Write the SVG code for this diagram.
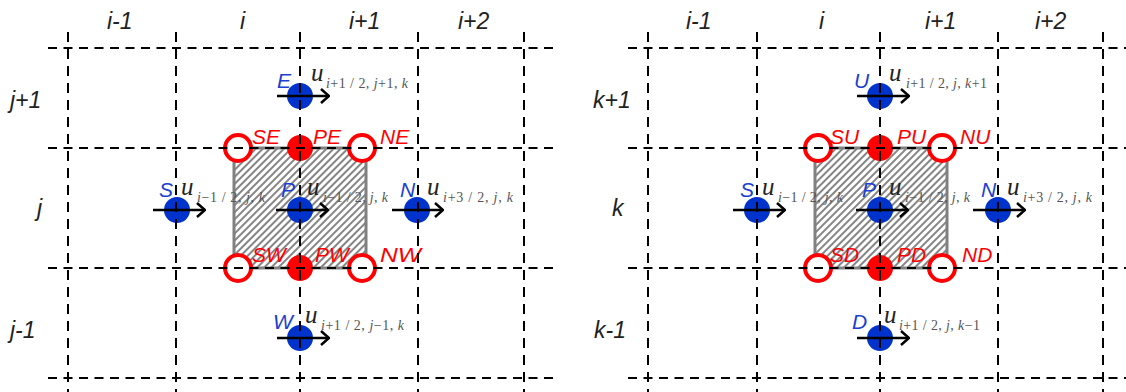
<svg xmlns="http://www.w3.org/2000/svg" width="1126" height="392" viewBox="0 0 1126 392">
<style>
.hg{stroke:#000;stroke-width:2;stroke-dasharray:9 6.5;fill:none}
.vg{stroke:#000;stroke-width:2;stroke-dasharray:10 7;fill:none}
.cell{fill:url(#hatch);stroke:#808080;stroke-width:3}
.bdot{fill:#0033cc}
.rdot{fill:#ff0000}
.ring{fill:#fff;stroke:#ff0000;stroke-width:4}
.lbl{font-family:"Liberation Sans",Arial,sans-serif;font-style:italic;font-size:21px}
.red{fill:#ff0000}
.blue{fill:#1a3fd1}
.hdr{font-family:"Liberation Sans",Arial,sans-serif;font-style:italic;font-size:23px;fill:#222}
.u{font-family:"Liberation Serif","Times New Roman",serif;font-style:italic;font-size:25px;fill:#222}
.sub{font-family:"Liberation Serif","Times New Roman",serif;font-size:14px;fill:#555}
.it{font-style:italic}
.arrow{stroke:#000;stroke-width:2.5;fill:none;marker-end:url(#chev)}
</style>
<defs>
<pattern id="hatch" width="5" height="5" patternUnits="userSpaceOnUse" patternTransform="rotate(45)">
<rect width="5" height="5" fill="#fff"/>
<line x1="1" y1="0" x2="1" y2="5" stroke="#444" stroke-width="1.3"/>
</pattern>
<marker id="chev" viewBox="0 0 10 16" refX="9" refY="8" markerWidth="10" markerHeight="16" markerUnits="userSpaceOnUse" orient="auto">
<path d="M1,1 L9,8 L1,15" stroke="#000" stroke-width="2.5" fill="none"/>
</marker>
</defs>
<rect width="1126" height="392" fill="#fff"/>

<!-- control volumes -->
<g id="cell-left"><rect class="cell" x="234" y="148" width="132" height="120"/></g>
<g id="cell-right"><rect class="cell" x="815" y="148" width="132" height="120"/></g>

<!-- left panel nodes -->
<g id="node-SE"><circle class="ring" cx="238" cy="148" r="13"/><text class="lbl red" x="252" y="144">SE</text></g>
<g id="node-PE"><circle class="rdot" cx="300" cy="148" r="13"/><text class="lbl red" x="313" y="144">PE</text></g>
<g id="node-NE"><circle class="ring" cx="362" cy="148" r="13"/><text class="lbl red" x="380" y="144">NE</text></g>
<g id="node-SW"><circle class="ring" cx="238" cy="268" r="13"/><text class="lbl red" x="252" y="262">SW</text></g>
<g id="node-PW"><circle class="rdot" cx="300" cy="268" r="13"/><text class="lbl red" x="315" y="262">PW</text></g>
<g id="node-NW"><circle class="ring" cx="362" cy="268" r="13"/><text class="lbl red" x="380" y="262" textLength="41" lengthAdjust="spacingAndGlyphs">NW</text></g>

<g id="node-E"><circle class="bdot" cx="300" cy="96" r="13"/><text class="lbl blue" x="277" y="88">E</text>
<text class="u" x="311" y="81">u</text><text class="sub" x="326" y="88" textLength="82" lengthAdjust="spacing"><tspan class="it">i</tspan>+1 / 2, <tspan class="it">j</tspan>+1, <tspan class="it">k</tspan></text></g>
<g id="node-S"><circle class="bdot" cx="177" cy="210" r="13"/><text class="lbl blue" x="159" y="197">S</text>
<text class="u" x="181" y="195">u</text><text class="sub" x="197" y="202" textLength="68" lengthAdjust="spacing"><tspan class="it">i</tspan>−1 / 2, <tspan class="it">j</tspan>, <tspan class="it">k</tspan></text></g>
<g id="node-P"><circle class="bdot" cx="300" cy="210" r="13"/><text class="lbl blue" x="281" y="197">P</text>
<text class="u" x="307" y="195">u</text><text class="sub" x="323" y="202" textLength="65" lengthAdjust="spacing"><tspan class="it">i</tspan>−1 / 2, <tspan class="it">j</tspan>, <tspan class="it">k</tspan></text></g>
<g id="node-N"><circle class="bdot" cx="417" cy="210" r="13"/><text class="lbl blue" x="400" y="197">N</text>
<text class="u" x="427" y="195">u</text><text class="sub" x="443" y="202" textLength="70" lengthAdjust="spacing"><tspan class="it">i</tspan>+3 / 2, <tspan class="it">j</tspan>, <tspan class="it">k</tspan></text></g>
<g id="node-W"><circle class="bdot" cx="300" cy="338" r="13"/><text class="lbl blue" x="273" y="329">W</text>
<text class="u" x="305" y="323">u</text><text class="sub" x="321" y="330" textLength="83" lengthAdjust="spacing"><tspan class="it">i</tspan>+1 / 2, <tspan class="it">j</tspan>−1, <tspan class="it">k</tspan></text></g>

<!-- right panel nodes -->
<g id="node-SU"><circle class="ring" cx="818" cy="148" r="13"/><text class="lbl red" x="830" y="144">SU</text></g>
<g id="node-PU"><circle class="rdot" cx="880" cy="148" r="13"/><text class="lbl red" x="897" y="144">PU</text></g>
<g id="node-NU"><circle class="ring" cx="942" cy="148" r="13"/><text class="lbl red" x="960" y="144">NU</text></g>
<g id="node-SD"><circle class="ring" cx="818" cy="268" r="13"/><text class="lbl red" x="830" y="262">SD</text></g>
<g id="node-PD"><circle class="rdot" cx="880" cy="268" r="13"/><text class="lbl red" x="897" y="262">PD</text></g>
<g id="node-ND"><circle class="ring" cx="942" cy="268" r="13"/><text class="lbl red" x="962" y="262">ND</text></g>

<g id="node-U"><circle class="bdot" cx="880" cy="96" r="13"/><text class="lbl blue" x="854" y="88">U</text>
<text class="u" x="889" y="81">u</text><text class="sub" x="906" y="88" textLength="81" lengthAdjust="spacing"><tspan class="it">i</tspan>+1 / 2, <tspan class="it">j</tspan>, <tspan class="it">k</tspan>+1</text></g>
<g id="node-S2"><circle class="bdot" cx="757" cy="210" r="13"/><text class="lbl blue" x="740" y="197">S</text>
<text class="u" x="762" y="195">u</text><text class="sub" x="778" y="202" textLength="65" lengthAdjust="spacing"><tspan class="it">i</tspan>−1 / 2, <tspan class="it">j</tspan>, <tspan class="it">k</tspan></text></g>
<g id="node-P2"><circle class="bdot" cx="880" cy="210" r="13"/><text class="lbl blue" x="862" y="197">P</text>
<text class="u" x="889" y="195">u</text><text class="sub" x="905" y="202" textLength="65" lengthAdjust="spacing"><tspan class="it">i</tspan>−1 / 2, <tspan class="it">j</tspan>, <tspan class="it">k</tspan></text></g>
<g id="node-N2"><circle class="bdot" cx="998" cy="210" r="13"/><text class="lbl blue" x="981" y="197">N</text>
<text class="u" x="1007" y="195">u</text><text class="sub" x="1023" y="202" textLength="69" lengthAdjust="spacing"><tspan class="it">i</tspan>+3 / 2, <tspan class="it">j</tspan>, <tspan class="it">k</tspan></text></g>
<g id="node-D"><circle class="bdot" cx="880" cy="338" r="13"/><text class="lbl blue" x="852" y="329">D</text>
<text class="u" x="884" y="323">u</text><text class="sub" x="899" y="330" textLength="81" lengthAdjust="spacing"><tspan class="it">i</tspan>+1 / 2, <tspan class="it">j</tspan>, <tspan class="it">k</tspan>−1</text></g>

<!-- grid lines -->
<g id="grid-left">
<line class="hg" x1="48" y1="48" x2="553" y2="48"/>
<line class="hg" x1="48" y1="148" x2="553" y2="148"/>
<line class="hg" x1="48" y1="268" x2="553" y2="268"/>
<line class="hg" x1="48" y1="378" x2="553" y2="378"/>
<line class="vg" x1="68" y1="32" x2="68" y2="392"/>
<line class="vg" x1="176" y1="32" x2="176" y2="392"/>
<line class="vg" x1="300" y1="32" x2="300" y2="392"/>
<line class="vg" x1="418" y1="32" x2="418" y2="392"/>
<line class="vg" x1="524" y1="32" x2="524" y2="392"/>
</g>
<g id="grid-right">
<line class="hg" x1="628" y1="48" x2="1126" y2="48"/>
<line class="hg" x1="628" y1="148" x2="1126" y2="148"/>
<line class="hg" x1="628" y1="268" x2="1126" y2="268"/>
<line class="hg" x1="628" y1="378" x2="1126" y2="378"/>
<line class="vg" x1="648" y1="32" x2="648" y2="392"/>
<line class="vg" x1="757" y1="32" x2="757" y2="392"/>
<line class="vg" x1="880" y1="32" x2="880" y2="392"/>
<line class="vg" x1="998" y1="32" x2="998" y2="392"/>
<line class="vg" x1="1103" y1="32" x2="1103" y2="392"/>
</g>

<!-- velocity arrows -->
<g id="connectors">
<line class="arrow" x1="277" y1="96" x2="329" y2="96"/>
<line class="arrow" x1="153" y1="210" x2="205" y2="210"/>
<line class="arrow" x1="276" y1="210" x2="328" y2="210"/>
<line class="arrow" x1="392" y1="210" x2="443" y2="210"/>
<line class="arrow" x1="277" y1="338" x2="329" y2="338"/>
<line class="arrow" x1="857" y1="96" x2="909" y2="96"/>
<line class="arrow" x1="733" y1="210" x2="785" y2="210"/>
<line class="arrow" x1="856" y1="210" x2="908" y2="210"/>
<line class="arrow" x1="973" y1="210" x2="1025" y2="210"/>
<line class="arrow" x1="857" y1="338" x2="909" y2="338"/>
</g>

<!-- axis labels -->
<g id="labels-left">
<text class="hdr" x="107" y="29">i-1</text>
<text class="hdr" x="240" y="29">i</text>
<text class="hdr" x="349" y="29">i+1</text>
<text class="hdr" x="458" y="29">i+2</text>
<text class="hdr" x="10" y="108">j+1</text>
<text class="hdr" x="37" y="216">j</text>
<text class="hdr" x="10" y="338">j-1</text>
</g>
<g id="labels-right">
<text class="hdr" x="686" y="29">i-1</text>
<text class="hdr" x="819" y="29">i</text>
<text class="hdr" x="925" y="29">i+1</text>
<text class="hdr" x="1035" y="29">i+2</text>
<text class="hdr" x="593" y="108">k+1</text>
<text class="hdr" x="612" y="216">k</text>
<text class="hdr" x="594" y="338">k-1</text>
</g>
</svg>
